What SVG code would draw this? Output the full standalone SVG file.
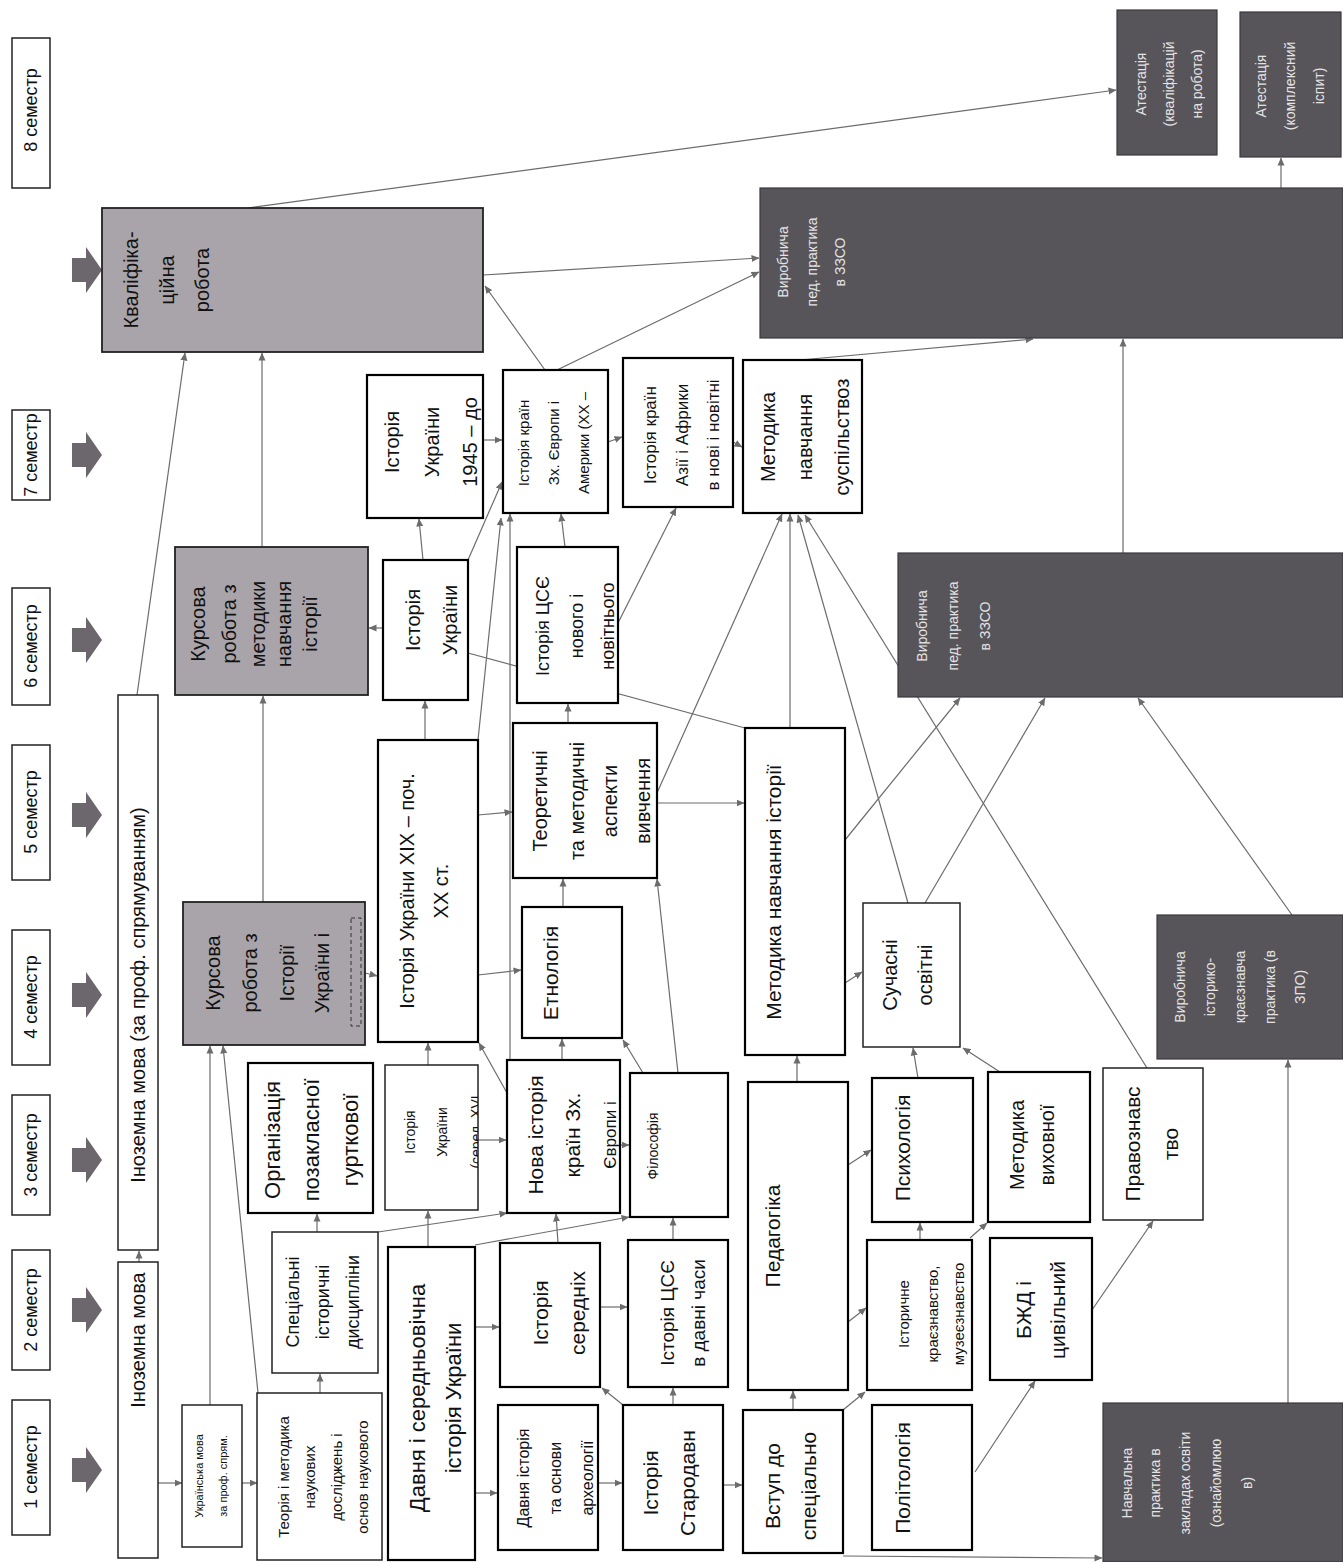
<svg xmlns="http://www.w3.org/2000/svg" width="1343" height="1562" viewBox="0 0 1343 1562">
<style>
.b{fill:#fff;stroke:#222;stroke-width:1.5}
.bt{fill:#fff;stroke:#000;stroke-width:2.2}
.g{fill:#a8a4a9;stroke:#222;stroke-width:1.8}
.d{fill:#57545a;stroke:#3b393d;stroke-width:1.2}
.t{font-family:"Liberation Sans",Arial,sans-serif;fill:#111;text-anchor:middle;dominant-baseline:central}
.l{fill:#e4e4e4}
.c{stroke:#6c6c6c;stroke-width:1.2;fill:none;marker-end:url(#ah)}
.cn{stroke:#6c6c6c;stroke-width:1.2;fill:none}
.ar{fill:#6b676d}
</style>
<defs>
<marker id="ah" viewBox="0 0 8 8" refX="7.5" refY="4" markerWidth="8" markerHeight="8" markerUnits="userSpaceOnUse" orient="auto">
<path d="M0,0.5 L8,4 L0,7.5 z" fill="#6c6c6c"/>
</marker>
<path id="barrow" d="M72,-12 h14 v-11 l16,23 l-16,23 v-11 h-14 z"/>
<clipPath id="clipSer"><rect x="385" y="1065" width="93" height="145"/></clipPath>
<clipPath id="clipNova"><rect x="507" y="1060" width="113" height="153"/></clipPath>
</defs>
<rect width="1343" height="1562" fill="#fff"/>

<g id="connectors">
<line class="c" x1="139" y1="1262" x2="139" y2="1251"/>
<line class="c" x1="137" y1="695" x2="185" y2="353"/>
<line class="c" x1="158" y1="1483" x2="182" y2="1483"/>
<line class="c" x1="242" y1="1483" x2="257" y2="1483"/>
<line class="c" x1="210" y1="1405" x2="210" y2="1046"/>
<line class="c" x1="258" y1="1393" x2="223" y2="1046"/>
<line class="c" x1="320" y1="1393" x2="320" y2="1374"/>
<line class="c" x1="317" y1="1232" x2="317" y2="1214"/>
<line class="c" x1="378" y1="1232" x2="507" y2="1213"/>
<line class="c" x1="428" y1="1247" x2="428" y2="1211"/>
<line class="c" x1="475" y1="1245" x2="629" y2="1217"/>
<line class="c" x1="475" y1="1327" x2="499" y2="1327"/>
<line class="c" x1="475" y1="1493" x2="497" y2="1493"/>
<line class="c" x1="478" y1="1140" x2="506" y2="1140"/>
<line class="c" x1="428" y1="1065" x2="428" y2="1043"/>
<line class="c" x1="507" y1="1093" x2="479" y2="1043"/>
<line class="c" x1="598" y1="1483" x2="622" y2="1483"/>
<line class="c" x1="723" y1="1485" x2="742" y2="1485"/>
<line class="c" x1="673" y1="1405" x2="673" y2="1388"/>
<line class="c" x1="623" y1="1405" x2="602" y2="1388"/>
<line class="c" x1="600" y1="1307" x2="627" y2="1307"/>
<line class="c" x1="558" y1="1243" x2="556" y2="1214"/>
<line class="c" x1="673" y1="1240" x2="673" y2="1218"/>
<line class="c" x1="620" y1="1145" x2="629" y2="1145"/>
<line class="c" x1="562" y1="1060" x2="562" y2="1039"/>
<line class="c" x1="643" y1="1073" x2="623" y2="1040"/>
<line class="c" x1="678" y1="1073" x2="657" y2="879"/>
<line class="c" x1="563" y1="907" x2="563" y2="879"/>
<line class="c" x1="568" y1="723" x2="568" y2="704"/>
<line class="c" x1="657" y1="803" x2="744" y2="803"/>
<line class="c" x1="657" y1="793" x2="782" y2="514"/>
<line class="c" x1="425" y1="740" x2="425" y2="701"/>
<line class="c" x1="478" y1="815" x2="512" y2="812"/>
<line class="c" x1="478" y1="975" x2="521" y2="970"/>
<line class="c" x1="478" y1="740" x2="501" y2="518"/>
<line class="c" x1="510" y1="1060" x2="510" y2="514"/>
<line class="c" x1="365" y1="973" x2="377" y2="976"/>
<line class="c" x1="263" y1="902" x2="263" y2="696"/>
<line class="c" x1="262" y1="547" x2="262" y2="353"/>
<line class="c" x1="383" y1="628" x2="369" y2="628"/>
<line class="c" x1="423" y1="560" x2="419" y2="519"/>
<line class="c" x1="468" y1="560" x2="502" y2="482"/>
<line class="cn" x1="468" y1="653" x2="745" y2="728"/>
<line class="c" x1="483" y1="440" x2="502" y2="440"/>
<line class="c" x1="565" y1="547" x2="561" y2="514"/>
<line class="c" x1="618" y1="623" x2="676" y2="508"/>
<line class="c" x1="608" y1="442" x2="622" y2="437"/>
<line class="c" x1="733" y1="442" x2="742" y2="447"/>
<line class="c" x1="545" y1="370" x2="485" y2="286"/>
<line class="c" x1="557" y1="370" x2="759" y2="272"/>
<line class="c" x1="483" y1="275" x2="759" y2="258"/>
<line class="c" x1="247" y1="208" x2="1116" y2="90"/>
<line class="c" x1="800" y1="360" x2="1033" y2="339"/>
<line class="c" x1="1123" y1="553" x2="1123" y2="339"/>
<line class="c" x1="1281" y1="188" x2="1281" y2="158"/>
<line class="c" x1="790" y1="728" x2="790" y2="514"/>
<line class="c" x1="908" y1="903" x2="798" y2="515"/>
<line class="c" x1="1147" y1="1068" x2="805" y2="515"/>
<line class="c" x1="925" y1="903" x2="1045" y2="698"/>
<line class="c" x1="845" y1="840" x2="960" y2="698"/>
<line class="c" x1="1292" y1="915" x2="1138" y2="698"/>
<line class="c" x1="845" y1="983" x2="862" y2="972"/>
<line class="c" x1="797" y1="1082" x2="797" y2="1056"/>
<line class="c" x1="793" y1="1410" x2="793" y2="1391"/>
<line class="c" x1="843" y1="1410" x2="865" y2="1392"/>
<line class="c" x1="848" y1="1322" x2="866" y2="1308"/>
<line class="c" x1="848" y1="1165" x2="871" y2="1150"/>
<line class="c" x1="920" y1="1240" x2="920" y2="1223"/>
<line class="c" x1="970" y1="1238" x2="987" y2="1223"/>
<line class="c" x1="918" y1="1078" x2="913" y2="1048"/>
<line class="c" x1="1000" y1="1072" x2="963" y2="1048"/>
<line class="c" x1="975" y1="1472" x2="1035" y2="1381"/>
<line class="c" x1="1092" y1="1310" x2="1153" y2="1221"/>
<line class="c" x1="1288" y1="1403" x2="1288" y2="1060"/>
<line class="c" x1="843" y1="1556" x2="1102" y2="1558"/>
</g>

<g id="semesters">
<g id="sem8"><rect class="b" x="12" y="38" width="38" height="150"/><text class="t" font-size="18" transform="translate(31,110) rotate(-90)">8 семестр</text><use href="#barrow" class="ar" y="270"/></g>
<g id="sem7"><rect class="b" x="12" y="410" width="38" height="90"/><text class="t" font-size="18" transform="translate(31,455) rotate(-90)">7 семестр</text><use href="#barrow" class="ar" y="455"/></g>
<g id="sem6"><rect class="b" x="12" y="588" width="38" height="117"/><text class="t" font-size="18" transform="translate(31,646) rotate(-90)">6 семестр</text><use href="#barrow" class="ar" y="640"/></g>
<g id="sem5"><rect class="b" x="12" y="745" width="38" height="135"/><text class="t" font-size="18" transform="translate(31,812) rotate(-90)">5 семестр</text><use href="#barrow" class="ar" y="815"/></g>
<g id="sem4"><rect class="b" x="12" y="930" width="38" height="135"/><text class="t" font-size="18" transform="translate(31,997) rotate(-90)">4 семестр</text><use href="#barrow" class="ar" y="995"/></g>
<g id="sem3"><rect class="b" x="12" y="1095" width="38" height="120"/><text class="t" font-size="18" transform="translate(31,1155) rotate(-90)">3 семестр</text><use href="#barrow" class="ar" y="1160"/></g>
<g id="sem2"><rect class="b" x="12" y="1250" width="38" height="120"/><text class="t" font-size="18" transform="translate(31,1310) rotate(-90)">2 семестр</text><use href="#barrow" class="ar" y="1310"/></g>
<g id="sem1"><rect class="b" x="12" y="1400" width="38" height="135"/><text class="t" font-size="18" transform="translate(31,1467) rotate(-90)">1 семестр</text><use href="#barrow" class="ar" y="1470"/></g>
</g>

<g id="nodes">
<g id="n_inoz2"><rect class="b" x="118" y="695" width="40" height="555"/><text class="t" font-size="20" transform="translate(138,995) rotate(-90)">Іноземна мова (за проф. спрямуванням)</text></g>
<g id="n_inoz1"><rect class="b" x="118" y="1262" width="40" height="296"/><text class="t" font-size="20" transform="translate(138,1340) rotate(-90)">Іноземна мова</text></g>

<g id="n_ukr"><rect class="b" x="182" y="1405" width="60" height="142"/>
<text class="t" font-size="11" transform="translate(199,1476) rotate(-90)">Українська мова</text>
<text class="t" font-size="11" transform="translate(223,1476) rotate(-90)">за проф. спрям.</text></g>

<g id="n_teor"><rect class="b" x="257" y="1393" width="125" height="167"/>
<text class="t" font-size="15" transform="translate(283,1477) rotate(-90)">Теорія і методика</text>
<text class="t" font-size="15" transform="translate(309,1477) rotate(-90)">наукових</text>
<text class="t" font-size="15" transform="translate(336,1477) rotate(-90)">досліджень і</text>
<text class="t" font-size="15" transform="translate(362,1477) rotate(-90)">основ наукового</text></g>

<g id="n_spec"><rect class="b" x="272" y="1232" width="106" height="141"/>
<text class="t" font-size="18" transform="translate(293,1302) rotate(-90)">Спеціальні</text>
<text class="t" font-size="18" transform="translate(323,1302) rotate(-90)">історичні</text>
<text class="t" font-size="18" transform="translate(353,1302) rotate(-90)">дисципліни</text></g>

<g id="n_org"><rect class="bt" x="248" y="1063" width="125" height="150"/>
<text class="t" font-size="22" transform="translate(272,1140) rotate(-90)">Організація</text>
<text class="t" font-size="22" transform="translate(311,1140) rotate(-90)">позакласної</text>
<text class="t" font-size="22" transform="translate(350,1140) rotate(-90)">гурткової</text></g>

<g id="n_kurs_ist"><rect class="g" x="183" y="902" width="182" height="143"/>
<rect x="351" y="918" width="10" height="108" fill="none" stroke="#333" stroke-width="1" stroke-dasharray="4,3"/>
<text class="t" font-size="20" transform="translate(213,973) rotate(-90)">Курсова</text>
<text class="t" font-size="20" transform="translate(250,973) rotate(-90)">робота з</text>
<text class="t" font-size="20" transform="translate(287,973) rotate(-90)">Історії</text>
<text class="t" font-size="20" transform="translate(322,973) rotate(-90)">України і</text></g>

<g id="n_kurs_met"><rect class="g" x="175" y="547" width="193" height="148"/>
<text class="t" font-size="20" transform="translate(198,624) rotate(-90)">Курсова</text>
<text class="t" font-size="20" transform="translate(229,624) rotate(-90)">робота з</text>
<text class="t" font-size="20" transform="translate(258,624) rotate(-90)">методики</text>
<text class="t" font-size="20" transform="translate(284,624) rotate(-90)">навчання</text>
<text class="t" font-size="20" transform="translate(310,624) rotate(-90)">історії</text></g>

<g id="n_kval"><rect class="g" x="102" y="208" width="381" height="144"/>
<text class="t" font-size="20" transform="translate(131,280) rotate(-90)">Кваліфіка-</text>
<text class="t" font-size="20" transform="translate(167,280) rotate(-90)">ційна</text>
<text class="t" font-size="20" transform="translate(202,280) rotate(-90)">робота</text></g>

<g id="n_ist_ser"><rect class="b" x="385" y="1065" width="93" height="145"/>
<g clip-path="url(#clipSer)">
<text class="t" font-size="14" transform="translate(410,1132) rotate(-90)">Історія</text>
<text class="t" font-size="14" transform="translate(442,1132) rotate(-90)">України</text>
<text class="t" font-size="14" transform="translate(476,1132) rotate(-90)">(серед. XVI</text></g></g>

<g id="n_davnser"><rect class="bt" x="388" y="1247" width="87" height="313"/>
<text class="t" font-size="22" transform="translate(417,1398) rotate(-90)">Давня і середньовічна</text>
<text class="t" font-size="22" transform="translate(453,1398) rotate(-90)">історія України</text></g>

<g id="n_xix"><rect class="bt" x="378" y="740" width="100" height="302"/>
<text class="t" font-size="20" transform="translate(407,891) rotate(-90)">Історія України XIX – поч.</text>
<text class="t" font-size="20" transform="translate(441,891) rotate(-90)">XX ст.</text></g>

<g id="n_ukr6"><rect class="bt" x="383" y="560" width="85" height="140"/>
<text class="t" font-size="20" transform="translate(413,620) rotate(-90)">Історія</text>
<text class="t" font-size="20" transform="translate(450,620) rotate(-90)">України</text></g>

<g id="n_1945"><rect class="bt" x="367" y="375" width="116" height="143"/>
<text class="t" font-size="20" transform="translate(392,442) rotate(-90)">Історія</text>
<text class="t" font-size="20" transform="translate(432,442) rotate(-90)">України</text>
<text class="t" font-size="20" transform="translate(470,442) rotate(-90)">1945 – до</text></g>

<g id="n_davist"><rect class="bt" x="498" y="1405" width="100" height="145"/>
<text class="t" font-size="16" transform="translate(523,1478) rotate(-90)">Давня історія</text>
<text class="t" font-size="16" transform="translate(555,1478) rotate(-90)">та основи</text>
<text class="t" font-size="16" transform="translate(587,1478) rotate(-90)">археології</text></g>

<g id="n_ser"><rect class="bt" x="500" y="1243" width="100" height="144"/>
<text class="t" font-size="21" transform="translate(540,1313) rotate(-90)">Історія</text>
<text class="t" font-size="21" transform="translate(577,1313) rotate(-90)">середніх</text></g>

<g id="n_nova"><rect class="bt" x="507" y="1060" width="113" height="153"/>
<g clip-path="url(#clipNova)">
<text class="t" font-size="21" transform="translate(535,1135) rotate(-90)">Нова історія</text>
<text class="t" font-size="21" transform="translate(572,1135) rotate(-90)">країн Зх.</text>
<text class="t" font-size="17" transform="translate(610,1135) rotate(-90)">Європи і</text></g></g>

<g id="n_etn"><rect class="bt" x="522" y="907" width="100" height="131"/>
<text class="t" font-size="21" transform="translate(550,973) rotate(-90)">Етнологія</text></g>

<g id="n_teoret"><rect class="bt" x="513" y="723" width="144" height="155"/>
<text class="t" font-size="20" transform="translate(540,801) rotate(-90)">Теоретичні</text>
<text class="t" font-size="20" transform="translate(577,801) rotate(-90)">та методичні</text>
<text class="t" font-size="20" transform="translate(610,801) rotate(-90)">аспекти</text>
<text class="t" font-size="20" transform="translate(643,801) rotate(-90)">вивчення</text></g>

<g id="n_csenov"><rect class="bt" x="517" y="547" width="101" height="156"/>
<text class="t" font-size="18" transform="translate(543,626) rotate(-90)">Історія ЦСЄ</text>
<text class="t" font-size="18" transform="translate(577,626) rotate(-90)">нового і</text>
<text class="t" font-size="18" transform="translate(608,626) rotate(-90)">новітнього</text></g>

<g id="n_zx"><rect class="bt" x="503" y="370" width="105" height="143"/>
<text class="t" font-size="15" transform="translate(523,443) rotate(-90)">Історія країн</text>
<text class="t" font-size="15" transform="translate(553,443) rotate(-90)">Зх. Європи і</text>
<text class="t" font-size="15" transform="translate(583,443) rotate(-90)">Америки (XX –</text></g>

<g id="n_star"><rect class="bt" x="623" y="1405" width="100" height="145"/>
<text class="t" font-size="21" transform="translate(650,1483) rotate(-90)">Історія</text>
<text class="t" font-size="21" transform="translate(687,1483) rotate(-90)">Стародавн</text></g>

<g id="n_csedav"><rect class="bt" x="628" y="1240" width="100" height="147"/>
<text class="t" font-size="19" transform="translate(667,1313) rotate(-90)">Історія ЦСЄ</text>
<text class="t" font-size="19" transform="translate(698,1313) rotate(-90)">в давні часи</text></g>

<g id="n_fil"><rect class="bt" x="630" y="1073" width="98" height="144"/>
<text class="t" font-size="14" transform="translate(653,1146) rotate(-90)">Філософія</text></g>

<g id="n_azia"><rect class="bt" x="623" y="358" width="110" height="149"/>
<text class="t" font-size="17" transform="translate(650,435) rotate(-90)">Історія країн</text>
<text class="t" font-size="17" transform="translate(682,435) rotate(-90)">Азії і Африки</text>
<text class="t" font-size="17" transform="translate(713,435) rotate(-90)">в нові і новітні</text></g>

<g id="n_vstup"><rect class="bt" x="743" y="1410" width="100" height="143"/>
<text class="t" font-size="21" transform="translate(772,1486) rotate(-90)">Вступ до</text>
<text class="t" font-size="21" transform="translate(808,1486) rotate(-90)">спеціально</text></g>

<g id="n_ped"><rect class="bt" x="748" y="1082" width="100" height="308"/>
<text class="t" font-size="21" transform="translate(772,1236) rotate(-90)">Педагогіка</text></g>

<g id="n_metist"><rect class="bt" x="745" y="728" width="100" height="327"/>
<text class="t" font-size="21" transform="translate(773,892) rotate(-90)">Методика навчання історії</text></g>

<g id="n_metsusp"><rect class="bt" x="743" y="360" width="119" height="153"/>
<text class="t" font-size="20" transform="translate(768,437) rotate(-90)">Методика</text>
<text class="t" font-size="20" transform="translate(805,437) rotate(-90)">навчання</text>
<text class="t" font-size="20" transform="translate(842,437) rotate(-90)">суспільствоз</text></g>

<g id="n_vyr8"><rect class="d" x="760" y="188" width="583" height="150"/>
<text class="t l" font-size="14" transform="translate(783,262) rotate(-90)">Виробнича</text>
<text class="t l" font-size="14" transform="translate(812,262) rotate(-90)">пед. практика</text>
<text class="t l" font-size="14" transform="translate(840,262) rotate(-90)">в ЗЗСО</text></g>

<g id="n_at1"><rect class="d" x="1117" y="10" width="100" height="145"/>
<text class="t l" font-size="14" transform="translate(1141,84) rotate(-90)">Атестація</text>
<text class="t l" font-size="14" transform="translate(1169,84) rotate(-90)">(кваліфікацій</text>
<text class="t l" font-size="14" transform="translate(1197,84) rotate(-90)">на робота)</text></g>

<g id="n_at2"><rect class="d" x="1240" y="12" width="101" height="145"/>
<text class="t l" font-size="14" transform="translate(1261,86) rotate(-90)">Атестація</text>
<text class="t l" font-size="14" transform="translate(1290,86) rotate(-90)">(комплексний</text>
<text class="t l" font-size="14" transform="translate(1319,86) rotate(-90)">іспит)</text></g>

<g id="n_polit"><rect class="bt" x="872" y="1405" width="100" height="145"/>
<text class="t" font-size="21" transform="translate(902,1478) rotate(-90)">Політологія</text></g>

<g id="n_krai"><rect class="bt" x="867" y="1240" width="105" height="150"/>
<text class="t" font-size="15" transform="translate(903,1314) rotate(-90)">Історичне</text>
<text class="t" font-size="15" transform="translate(932,1314) rotate(-90)">краєзнавство,</text>
<text class="t" font-size="15" transform="translate(958,1314) rotate(-90)">музеєзнавство</text></g>

<g id="n_psy"><rect class="bt" x="872" y="1078" width="101" height="144"/>
<text class="t" font-size="21" transform="translate(902,1148) rotate(-90)">Психологія</text></g>

<g id="n_such"><rect class="b" x="863" y="903" width="97" height="144"/>
<text class="t" font-size="20" transform="translate(890,975) rotate(-90)">Сучасні</text>
<text class="t" font-size="20" transform="translate(925,975) rotate(-90)">освітні</text></g>

<g id="n_vyr6"><rect class="d" x="898" y="553" width="445" height="144"/>
<text class="t l" font-size="14" transform="translate(922,626) rotate(-90)">Виробнича</text>
<text class="t l" font-size="14" transform="translate(953,626) rotate(-90)">пед. практика</text>
<text class="t l" font-size="14" transform="translate(985,626) rotate(-90)">в ЗЗСО</text></g>

<g id="n_bzd"><rect class="bt" x="990" y="1238" width="102" height="142"/>
<text class="t" font-size="21" transform="translate(1023,1310) rotate(-90)">БЖД і</text>
<text class="t" font-size="21" transform="translate(1057,1310) rotate(-90)">цивільний</text></g>

<g id="n_metvyh"><rect class="bt" x="988" y="1072" width="102" height="150"/>
<text class="t" font-size="20" transform="translate(1017,1145) rotate(-90)">Методика</text>
<text class="t" font-size="20" transform="translate(1047,1145) rotate(-90)">виховної</text></g>

<g id="n_prav"><rect class="b" x="1103" y="1068" width="100" height="152"/>
<text class="t" font-size="21" transform="translate(1132,1144) rotate(-90)">Правознавс</text>
<text class="t" font-size="21" transform="translate(1170,1144) rotate(-90)">тво</text></g>

<g id="n_nav"><rect class="d" x="1103" y="1403" width="240" height="159"/>
<text class="t l" font-size="14" transform="translate(1127,1483) rotate(-90)">Навчальна</text>
<text class="t l" font-size="14" transform="translate(1155,1483) rotate(-90)">практика в</text>
<text class="t l" font-size="14" transform="translate(1185,1483) rotate(-90)">закладах освіти</text>
<text class="t l" font-size="14" transform="translate(1216,1483) rotate(-90)">(ознайомлюю</text>
<text class="t l" font-size="14" transform="translate(1247,1483) rotate(-90)">в)</text></g>

<g id="n_vyrkr"><rect class="d" x="1157" y="915" width="186" height="144"/>
<text class="t l" font-size="14" transform="translate(1180,987) rotate(-90)">Виробнича</text>
<text class="t l" font-size="14" transform="translate(1210,987) rotate(-90)">історико-</text>
<text class="t l" font-size="14" transform="translate(1240,987) rotate(-90)">краєзнавча</text>
<text class="t l" font-size="14" transform="translate(1270,987) rotate(-90)">практика (в</text>
<text class="t l" font-size="14" transform="translate(1300,987) rotate(-90)">ЗПО)</text></g>
</g>
</svg>
